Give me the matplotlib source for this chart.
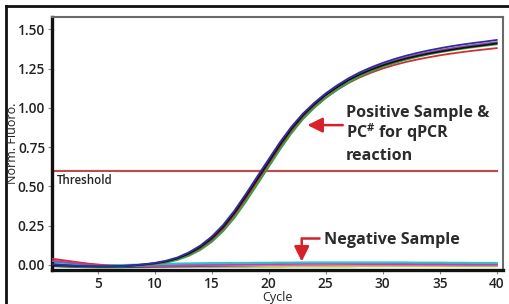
import matplotlib.pyplot as plt
from matplotlib.lines import Line2D

plt.rcParams['font.family'] = ['Open Sans', 'DejaVu Sans']
plt.rcParams['mathtext.fontset'] = 'custom'
plt.rcParams['mathtext.rm'] = 'Open Sans:bold'
plt.rcParams['mathtext.it'] = 'Open Sans:bold'
plt.rcParams['mathtext.bf'] = 'Open Sans:bold'

# amplification data
cycles = list(range(1, 41))

pos_black = [0.000, -0.003, -0.006, -0.008, -0.010, -0.010, -0.008, -0.004, 0.002, 0.010,
             0.022, 0.042, 0.072, 0.113, 0.168, 0.240, 0.330, 0.435, 0.545, 0.655,
             0.765, 0.865, 0.950, 1.020, 1.080, 1.130, 1.175, 1.212, 1.243, 1.270,
             1.293, 1.313, 1.330, 1.345, 1.358, 1.370, 1.381, 1.391, 1.400, 1.410]
pos_blue = [0.005, 0.000, -0.004, -0.007, -0.009, -0.009, -0.007, -0.003, 0.004, 0.013,
            0.027, 0.048, 0.080, 0.123, 0.180, 0.254, 0.346, 0.452, 0.563, 0.673,
            0.782, 0.880, 0.963, 1.032, 1.092, 1.143, 1.188, 1.226, 1.258, 1.286,
            1.310, 1.331, 1.349, 1.365, 1.379, 1.392, 1.403, 1.413, 1.422, 1.432]
pos_red = [0.040, 0.030, 0.020, 0.010, 0.002, -0.004, -0.006, -0.004, 0.000, 0.007,
           0.018, 0.036, 0.064, 0.103, 0.156, 0.227, 0.316, 0.420, 0.530, 0.641,
           0.750, 0.850, 0.935, 1.005, 1.064, 1.114, 1.158, 1.194, 1.224, 1.250,
           1.272, 1.291, 1.307, 1.321, 1.334, 1.345, 1.355, 1.364, 1.372, 1.380]
pos_green = [0.000, -0.004, -0.008, -0.011, -0.013, -0.013, -0.011, -0.007, -0.002, 0.005,
             0.015, 0.032, 0.058, 0.095, 0.146, 0.214, 0.300, 0.402, 0.512, 0.624,
             0.735, 0.838, 0.927, 1.000, 1.062, 1.115, 1.161, 1.200, 1.232, 1.260,
             1.284, 1.305, 1.323, 1.339, 1.353, 1.365, 1.376, 1.386, 1.395, 1.404]
pos_purple = [0.025, 0.018, 0.010, 0.003, -0.003, -0.006, -0.006, -0.003, 0.003, 0.011,
              0.024, 0.044, 0.075, 0.117, 0.173, 0.246, 0.337, 0.442, 0.553, 0.663,
              0.772, 0.871, 0.955, 1.025, 1.085, 1.136, 1.181, 1.219, 1.250, 1.277,
              1.300, 1.320, 1.338, 1.353, 1.367, 1.379, 1.390, 1.400, 1.409, 1.418]

neg_cyan = [0.010, 0.006, 0.002, 0.000, -0.002, -0.002, -0.001, 0.001, 0.003, 0.005,
            0.007, 0.009, 0.010, 0.011, 0.012, 0.012, 0.013, 0.013, 0.014, 0.014,
            0.015, 0.015, 0.016, 0.016, 0.016, 0.016, 0.016, 0.016, 0.016, 0.016,
            0.016, 0.016, 0.015, 0.015, 0.015, 0.014, 0.014, 0.013, 0.013, 0.013]
neg_magenta = [0.020, 0.012, 0.005, 0.000, -0.004, -0.006, -0.006, -0.005, -0.004, -0.003,
               -0.002, -0.001, 0.000, 0.000, 0.001, 0.002, 0.003, 0.004, 0.005, 0.006,
               0.007, 0.008, 0.009, 0.010, 0.010, 0.009, 0.008, 0.007, 0.006, 0.006,
               0.005, 0.005, 0.005, 0.004, 0.004, 0.004, 0.003, 0.003, 0.003, 0.003]
neg_navy = [-0.005, -0.008, -0.010, -0.012, -0.013, -0.013, -0.013, -0.012, -0.011, -0.010,
            -0.009, -0.008, -0.007, -0.006, -0.005, -0.004, -0.003, -0.002, -0.001, 0.000,
            0.001, 0.002, 0.003, 0.004, 0.005, 0.006, 0.007, 0.007, 0.008, 0.008,
            0.008, 0.008, 0.008, 0.008, 0.007, 0.007, 0.007, 0.006, 0.006, 0.006]
neg_yellow = [0.000, -0.004, -0.008, -0.010, -0.012, -0.013, -0.013, -0.013, -0.012, -0.012,
              -0.011, -0.011, -0.010, -0.010, -0.009, -0.009, -0.009, -0.008, -0.008, -0.008,
              -0.008, -0.007, -0.007, -0.007, -0.007, -0.007, -0.007, -0.006, -0.006, -0.006,
              -0.006, -0.006, -0.006, -0.006, -0.006, -0.005, -0.005, -0.005, -0.005, -0.005]
neg_green = [-0.008, -0.010, -0.012, -0.014, -0.015, -0.015, -0.015, -0.014, -0.014, -0.013,
             -0.013, -0.012, -0.012, -0.011, -0.011, -0.010, -0.010, -0.010, -0.009, -0.009,
             -0.009, -0.008, -0.008, -0.008, -0.008, -0.008, -0.008, -0.007, -0.007, -0.007,
             -0.007, -0.007, -0.007, -0.007, -0.007, -0.007, -0.007, -0.007, -0.007, -0.007]
neg_pink = [0.030, 0.022, 0.014, 0.007, 0.002, -0.002, -0.004, -0.005, -0.005, -0.004,
            -0.004, -0.003, -0.003, -0.002, -0.002, -0.001, -0.001, 0.000, 0.000, 0.000,
            0.001, 0.001, 0.001, 0.002, 0.002, 0.002, 0.002, 0.002, 0.002, 0.002,
            0.002, 0.002, 0.002, 0.002, 0.002, 0.002, 0.002, 0.002, 0.002, 0.002]

threshold = 0.60
x_ticks = [5, 10, 15, 20, 25, 30, 35, 40]
y_ticks = [0.00, 0.25, 0.50, 0.75, 1.00, 1.25, 1.50]

neg_series = [(neg_green, '#3f9f3f'), (neg_yellow, '#c9c93a'), (neg_navy, '#2f2f92'),
              (neg_pink, '#e870a8'), (neg_magenta, '#bf3cbf'), (neg_cyan, '#2ec4c4')]
pos_series = [(pos_red, '#d03030'), (pos_green, '#35a045'), (pos_purple, '#9a4fb0'),
              (pos_black, '#111111'), (pos_blue, '#2e2e9e')]

fig = plt.figure(figsize=(5.09, 3.04), dpi=100)
ax = fig.add_axes([52 / 509, 34 / 304, 451 / 509, 253 / 304])

for vals, col in neg_series:
    ax.plot(cycles, vals, color=col, lw=1.5, zorder=2)
for vals, col in pos_series:
    ax.plot(cycles, vals, color=col, lw=1.3, zorder=3)

ax.plot([cycles[0], cycles[-1]], [threshold, threshold], color='#b5504c', lw=1.6, zorder=2)
ax.text(1.45, 0.535, 'Threshold', fontsize=8.3, fontweight='semibold', color='#222222',
        ha='left', va='center', zorder=5,
        bbox=dict(facecolor='white', edgecolor='none', pad=1.5))

ax.set_xlim(1, 40.55)
ax.set_ylim(-0.032, 1.578)
ax.set_xticks(x_ticks)
ax.set_yticks(y_ticks)
ax.set_yticklabels([f'{v:.2f}' for v in y_ticks])
ax.tick_params(axis='both', labelsize=9.8, length=3, width=0.8, color='#888888',
               labelcolor='#222222', pad=2)
for lab in ax.get_xticklabels() + ax.get_yticklabels():
    lab.set_fontweight('semibold')

for side in ['left', 'bottom']:
    ax.spines[side].set_linewidth(2.4)
    ax.spines[side].set_color('#111111')
for side in ['top', 'right']:
    ax.spines[side].set_linewidth(1.5)
    ax.spines[side].set_color('#6a6a6a')

ax.set_xlabel('Cycle', fontsize=9, labelpad=0, color='#222222')
fig.text(13 / 509, 1 - 143 / 304, 'Norm. Fluoro.', rotation=90, fontsize=9,
         ha='center', va='center', color='#222222')

# annotations
red = '#d8202a'
txt_col = '#2b2b2b'
ax.annotate('', xy=(23.4, 0.89), xytext=(26.5, 0.89),
            arrowprops=dict(arrowstyle='-|>,head_length=0.9,head_width=0.45',
                            color=red, lw=1.8, shrinkA=0, shrinkB=0), zorder=6)
ax.text(26.75, 0.94, 'Positive Sample &', fontsize=11.6, fontweight='bold',
        color=txt_col, ha='left', va='baseline')
ax.text(26.75, 0.805, r'PC$^{\#}$ for qPCR', fontsize=11.6, fontweight='bold',
        color=txt_col, ha='left', va='baseline')
ax.text(26.75, 0.667, 'reaction', fontsize=11.6, fontweight='bold',
        color=txt_col, ha='left', va='baseline')

ax.plot([22.9, 24.5], [0.17, 0.17], color=red, lw=1.8, solid_capstyle='butt', zorder=6)
ax.annotate('', xy=(22.9, 0.022), xytext=(22.9, 0.17),
            arrowprops=dict(arrowstyle='-|>,head_length=0.9,head_width=0.45',
                            color=red, lw=1.8, shrinkA=0, shrinkB=0), zorder=6)
ax.text(24.85, 0.135, 'Negative Sample', fontsize=11.6, fontweight='bold',
        color=txt_col, ha='left', va='baseline')

# outer frame of the figure
fig.add_artist(Line2D([6 / 509, 1.0], [1 - 6 / 304, 1 - 6 / 304], color='#111111', lw=2))
fig.add_artist(Line2D([6 / 509, 6 / 509], [0.0, 1 - 6 / 304], color='#111111', lw=2))

fig.savefig('out.png', dpi=100)
